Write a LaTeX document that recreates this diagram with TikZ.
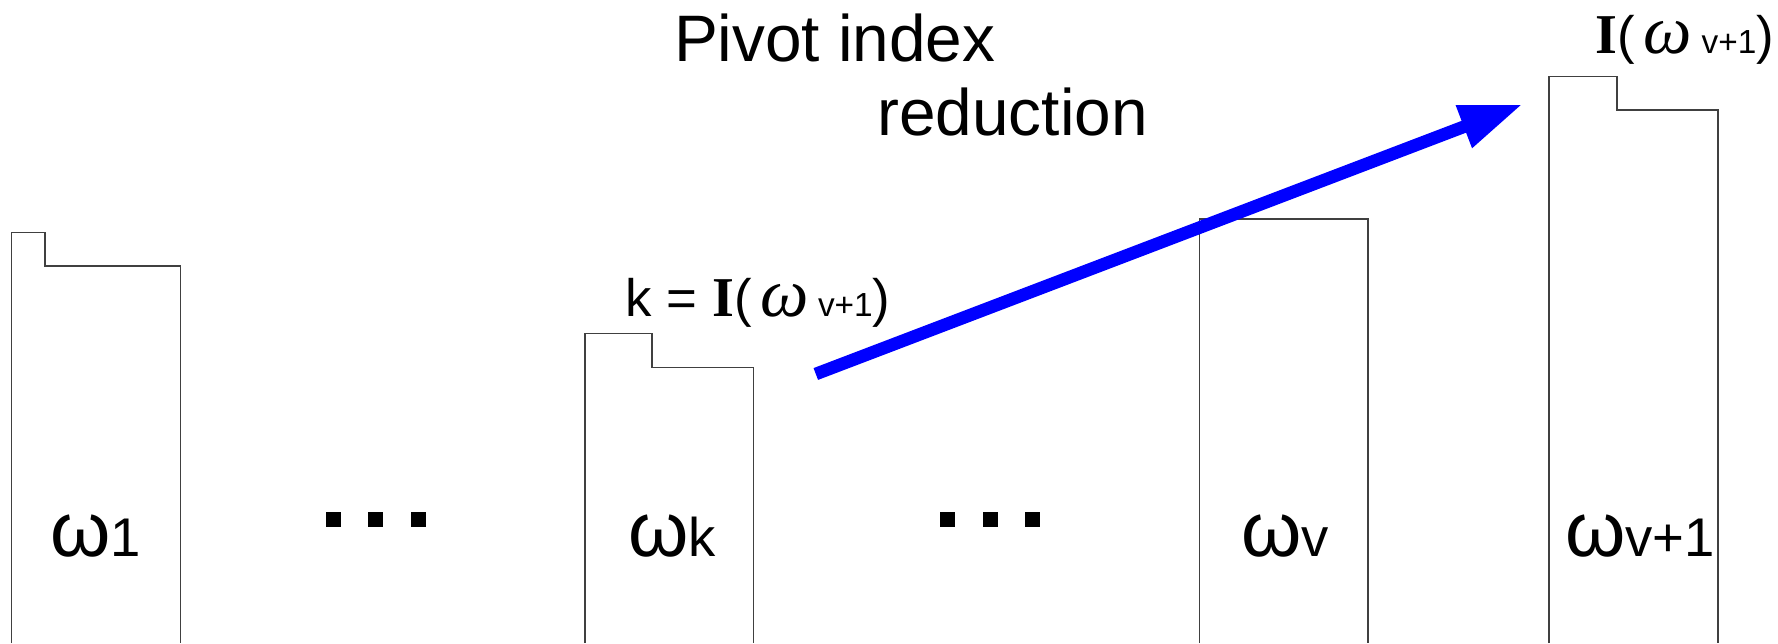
\documentclass[tikz,border=0pt]{standalone}
\usepackage{amsmath,amssymb}
\usepackage{fontspec}
\setmainfont{Liberation Sans}
\newfontfamily\serifbold{Liberation Serif}
\usepackage{xcolor}
\usepackage{tikz}
\usetikzlibrary{positioning,arrows.meta}

\definecolor{arrowblue}{RGB}{0,0,255}

\begin{document}
\begin{tikzpicture}[
    wbox/.style={draw=black!75, line width=0.45pt},
    wlabel/.style={anchor=base, inner sep=0pt, font=\fontsize{22}{24}\selectfont},
    sqdot/.style={fill=black, minimum size=0.147cm, inner sep=0pt}
  ]
  \useasboundingbox (0,0) rectangle (17.78,6.43);

  % Weight columns (open at the bottom)
  \draw[wbox] (0.117,0) -- (0.117,4.107) -- (0.45,4.107) -- (0.45,3.77) -- (1.803,3.77) -- (1.803,0);
  \draw[wbox] (5.85,0) -- (5.85,3.097) -- (6.52,3.097) -- (6.52,2.757) -- (7.535,2.757) -- (7.535,0);
  \draw[wbox] (11.993,0) -- (11.993,4.24) -- (13.68,4.24) -- (13.68,0);
  \draw[wbox] (15.49,0) -- (15.49,5.663) -- (16.17,5.663) -- (16.17,5.33) -- (17.18,5.33) -- (17.18,0);

  % Column labels
  \node[wlabel] (w1) at (0.955,0.87) {ω{\fontsize{15.5}{17}\selectfont 1}};
  \node[wlabel] (wk) at (6.72,0.87) {ω{\fontsize{15.5}{17}\selectfont k}};
  \node[wlabel] (wv) at (12.85,0.87) {ω{\fontsize{15.5}{17}\selectfont v}};
  \node[wlabel] (wv1) at (16.40,0.87) {ω{\fontsize{15.5}{17}\selectfont v+1}};

  % Ellipses
  \node[sqdot] (da1) at (3.333,1.237) {};
  \node[sqdot] (da2) at (3.757,1.237) {};
  \node[sqdot] (da3) at (4.185,1.237) {};
  \node[sqdot] (db1) at (9.475,1.237) {};
  \node[sqdot] (db2) at (9.905,1.237) {};
  \node[sqdot] (db3) at (10.325,1.237) {};

  % Title
  \node[anchor=base west, inner sep=0pt, font=\fontsize{18.7}{21}\selectfont] (ttl1) at (6.733,5.813) {Pivot index};
  \node[anchor=base west, inner sep=0pt, font=\fontsize{18.7}{21}\selectfont] (ttl2) at (8.767,5.08) {reduction};

  % Pivot labels
  \node[anchor=base west, inner sep=0pt, font=\fontsize{15}{17}\selectfont] (kidx) at (6.25,3.27)
    {k = {\serifbold\bfseries\fontsize{16}{17}\selectfont I}(\,{\serifbold\itshape\fontsize{19.5}{21}\selectfont ω}{\fontsize{9.5}{10}\selectfont\ v+1})};
  \node[anchor=base west, inner sep=0pt, font=\fontsize{15}{17}\selectfont] (pidx) at (15.95,5.897)
    {{\serifbold\bfseries\fontsize{16}{17}\selectfont I}(\,{\serifbold\itshape\fontsize{19.5}{21}\selectfont ω}{\fontsize{9.5}{10}\selectfont\ v+1})};

  % Reduction arrow
  \coordinate (arrs) at (8.158,2.69);
  \coordinate (arre) at (15.227,5.387);
  \draw[arrowblue, line width=3.6pt, -{Triangle[length=6.3mm, width=4.2mm]}] (arrs) -- (arre);
\end{tikzpicture}
\end{document}
